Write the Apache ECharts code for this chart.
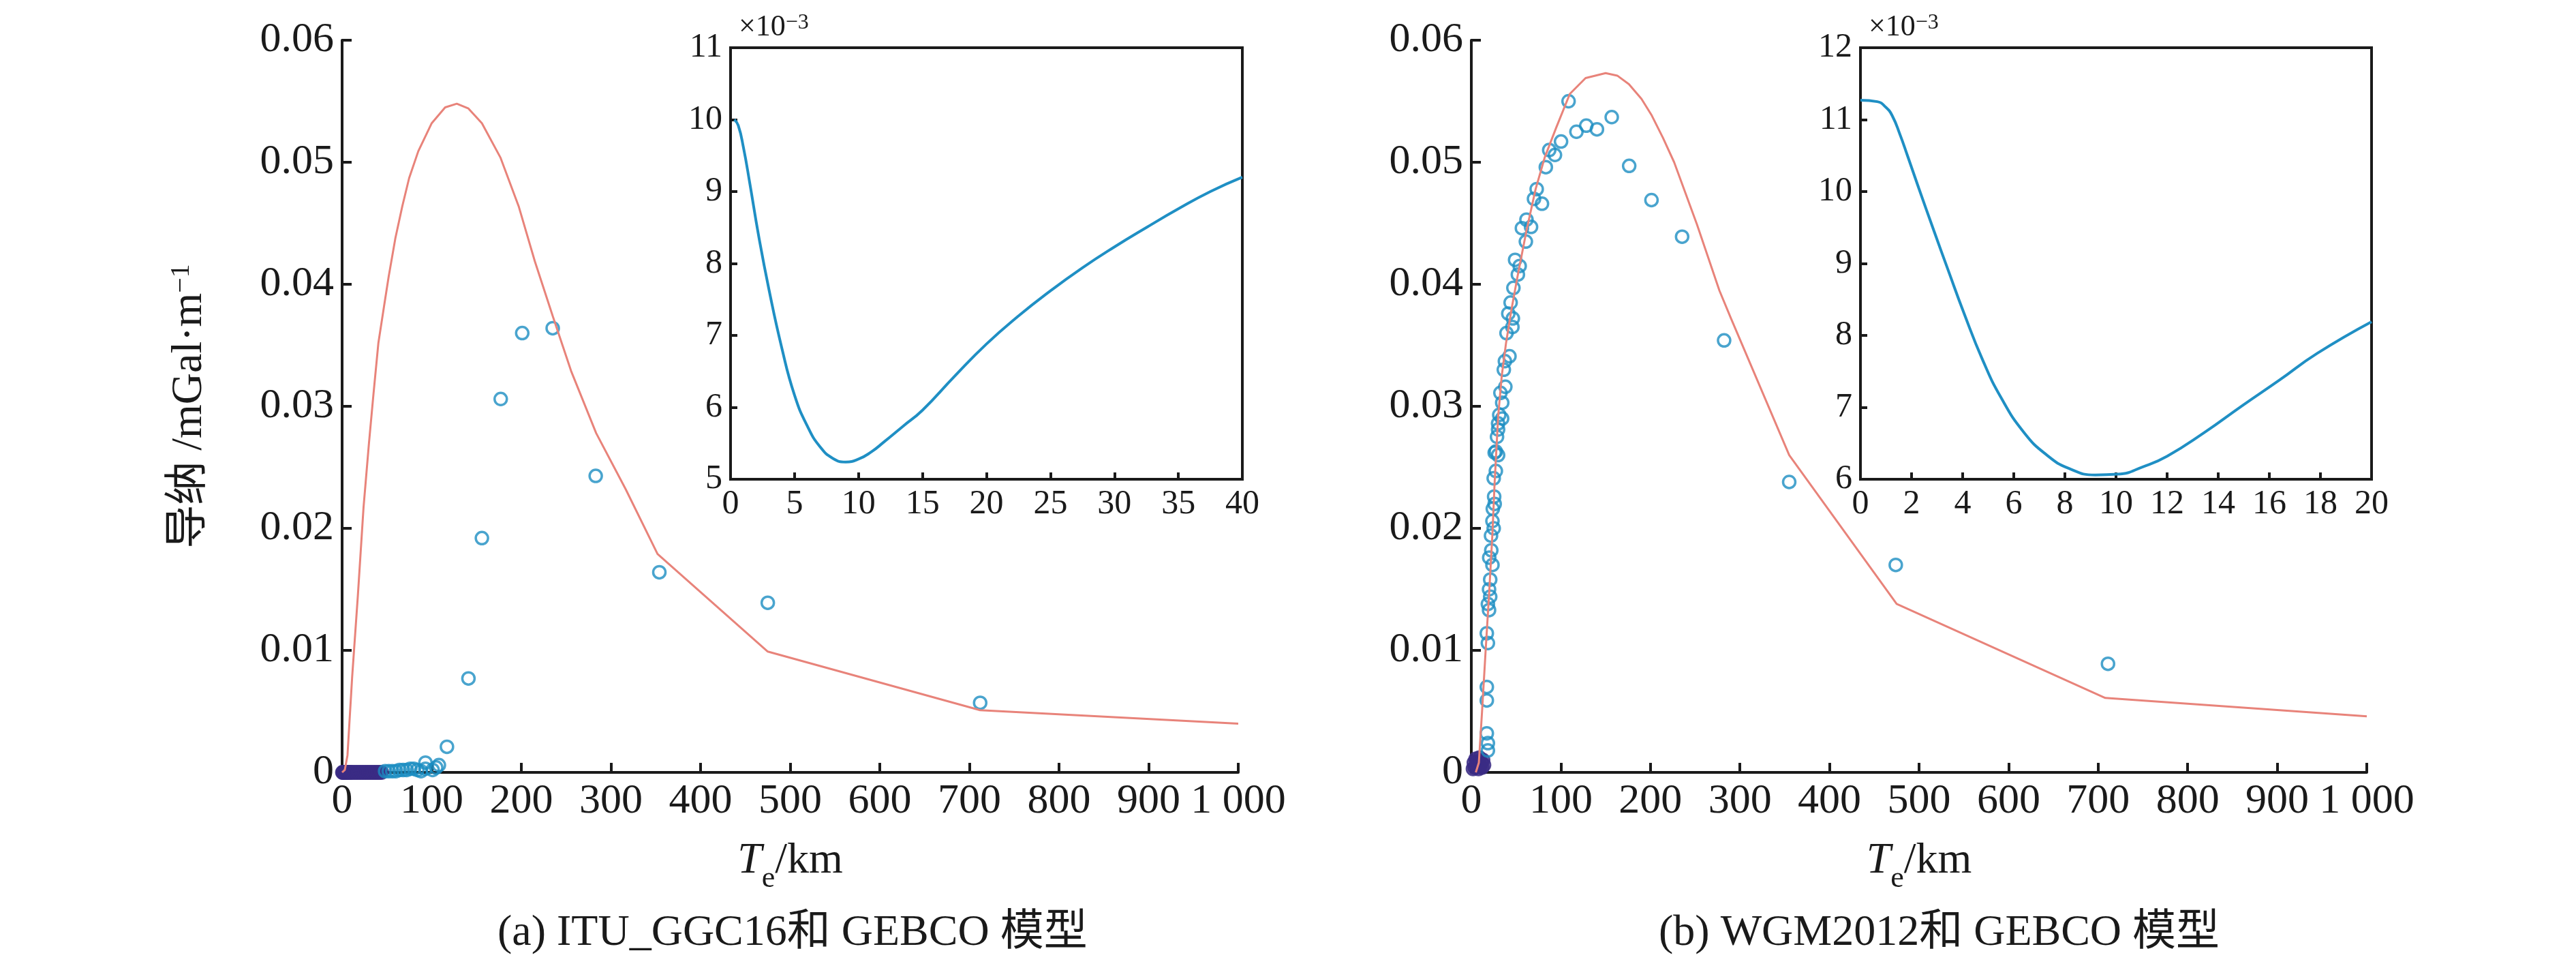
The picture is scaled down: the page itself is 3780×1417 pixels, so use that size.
<!DOCTYPE html>
<html>
<head>
<meta charset="utf-8">
<title>导纳与 Te</title>
<script src="https://cdn.jsdelivr.net/npm/echarts@6/dist/echarts.min.js"></script>
<style>
  html, body { margin: 0; padding: 0; background: #fff; }
  #chart { width: 3780px; height: 1417px; }
</style>
</head>
<body>
<div id="chart"></div>
<script>
// ---- tick labels ----
const mainXTicks = [0, 100, 200, 300, 400, 500, 600, 700, 800, 900, 1000];
const mainXLabels = ['0', '100', '200', '300', '400', '500', '600', '700', '800', '900', '1 000'];
const mainYTicks = [0, 0.01, 0.02, 0.03, 0.04, 0.05, 0.06];
const mainYLabels = ['0', '0.01', '0.02', '0.03', '0.04', '0.05', '0.06'];
const insetAXTicks = [0, 5, 10, 15, 20, 25, 30, 35, 40];
const insetAYTicks = [5, 6, 7, 8, 9, 10, 11];
const insetBXTicks = [0, 2, 4, 6, 8, 10, 12, 14, 16, 18, 20];
const insetBYTicks = [6, 7, 8, 9, 10, 11, 12];

// ---- panel (a): ITU_GGC16 and GEBCO ----
const aModelLine = [
  [0, 0], [3, 0.0002], [6, 0.0014], [11.2, 0.0078], [17.6, 0.0145],
  [23.9, 0.0217], [30, 0.027], [35, 0.031], [40.5, 0.0352], [46.8, 0.0382],
  [51.9, 0.0406], [59.5, 0.0438], [67.2, 0.0464], [74.8, 0.0487], [85, 0.0509],
  [100, 0.0532], [115, 0.0545], [128, 0.0548], [141, 0.0544], [156, 0.0532],
  [176.6, 0.0504], [197, 0.0464], [215, 0.0419], [235, 0.0374], [255.5, 0.0329],
  [283.5, 0.0278], [316.5, 0.0232], [352, 0.0179], [475, 0.0099], [712, 0.0051],
  [1000, 0.004]
];
// overlapping points squeezed along the axis near the origin
const aDense = [
  [0.5, 0], [1, 0], [2, 0], [3, 0], [4, 0], [5, 0], [6, 0], [7, 0], [8, 0],
  [9, 0], [10, 0], [12, 0], [14, 0], [16, 0], [18, 0], [20, 0], [22, 0],
  [24, 0], [26, 0], [28, 0], [30, 0], [32, 0], [34, 0], [36, 0], [38, 0],
  [40, 0], [42, 0], [44, 0]
];
const aObserved = [
  [48, 0.0001], [52, 0.0001], [56, 0.0001], [60, 0.0001], [64, 0.0002],
  [68, 0.0002], [72, 0.0002], [76, 0.0003], [80, 0.0003], [84, 0.0002],
  [88, 0.0001], [93, 0.0003], [93, 0.0008], [101, 0.0002], [105, 0.0004],
  [108, 0.0006], [117, 0.0021], [141, 0.0077], [156, 0.0192], [177, 0.0306],
  [201, 0.036], [235, 0.0364], [283, 0.0243], [354, 0.0164], [475, 0.0139],
  [712, 0.0057]
];
// inset (a), values in 1e-3
const aInset = [
  [0.3, 10.0], [0.6, 9.92], [1, 9.62], [1.5, 9.12], [2.2, 8.38], [3, 7.64],
  [4, 6.83], [5, 6.17], [6, 5.74], [7, 5.45], [8, 5.29], [9, 5.24], [10, 5.28],
  [11, 5.38], [12, 5.52], [13.5, 5.74], [15, 5.96], [17.5, 6.43], [20, 6.88],
  [22.5, 7.27], [25, 7.62], [27.5, 7.94], [30, 8.23], [32.5, 8.5], [35, 8.76],
  [37.5, 9.0], [40, 9.2]
];

// ---- panel (b): WGM2012 and GEBCO ----
const bModelLine = [
  [5, 0], [8.4, 0.0008], [12, 0.005], [16, 0.01], [20, 0.0148], [23.6, 0.0196],
  [26, 0.0237], [30, 0.0292], [34, 0.0325], [38.8, 0.0352], [45, 0.038],
  [51.5, 0.0406], [61.6, 0.0444], [71.8, 0.0478], [82, 0.0504], [94.6, 0.0528],
  [110, 0.0556], [127.6, 0.0569], [150, 0.0573], [163, 0.0571], [176, 0.0564],
  [190, 0.0552], [201, 0.0539], [214, 0.052], [226.5, 0.05], [252, 0.0449],
  [277, 0.0395], [290, 0.0372], [355, 0.026], [475, 0.0138], [708, 0.0061],
  [1000, 0.0046]
];
const bDense = [
  [2, 0.0003], [3, 0.0008], [4, 0.0004], [5, 0.0011], [6, 0.0006], [7, 0.0009],
  [8, 0.0003], [9, 0.0012], [10, 0.0005], [11, 0.0008], [12, 0.0004],
  [13, 0.001], [14, 0.0006]
];
const bObserved = [
  [18.5, 0.0018], [18.5, 0.0024], [17.3, 0.0032], [17.3, 0.0059], [17.3, 0.007],
  [18.5, 0.0106], [17.3, 0.0114], [19.8, 0.0133], [18.5, 0.0138], [21.1, 0.0144],
  [19.8, 0.015], [21.1, 0.0158], [23.6, 0.017], [20, 0.0176], [22.3, 0.0182],
  [22, 0.0194], [25, 0.02], [23.6, 0.0206], [24, 0.0216], [26.1, 0.022],
  [25.5, 0.0226], [25, 0.0241], [27.4, 0.0247], [29.9, 0.026], [26.1, 0.0262],
  [27.4, 0.0263], [28.7, 0.0275], [29.9, 0.0281], [29.9, 0.0286], [34.4, 0.029],
  [31.2, 0.0293], [34.5, 0.0303], [32.5, 0.0311], [38, 0.0316], [36.3, 0.033],
  [37.5, 0.0337], [42.6, 0.0341], [39.3, 0.036], [45.9, 0.0365], [46.4, 0.0372],
  [41.3, 0.0376], [43.9, 0.0385], [47, 0.0397], [52, 0.0408], [54, 0.0415],
  [48.9, 0.042], [60.9, 0.0435], [56.5, 0.0446], [66.7, 0.0447], [61.6, 0.0453],
  [78.9, 0.0466], [70, 0.047], [73, 0.0478], [83.2, 0.0496], [93.4, 0.0506],
  [87, 0.051], [100.2, 0.0517], [117.4, 0.0525], [140.3, 0.0527], [128.4, 0.053],
  [156.8, 0.0537], [108.6, 0.055], [176.3, 0.0497], [201.2, 0.0469],
  [235.4, 0.0439], [282.3, 0.0354], [355, 0.0238], [474, 0.017], [711, 0.0089]
];
const bInset = [
  [0, 11.27], [0.66, 11.25], [1.0, 11.17], [1.25, 11.05], [1.54, 10.8],
  [1.84, 10.5], [2.28, 10.05], [2.87, 9.46], [3.46, 8.88], [4.04, 8.32],
  [4.78, 7.66], [5.51, 7.13], [6.4, 6.65], [7.28, 6.34], [8.16, 6.15],
  [9.19, 6.06], [10.07, 6.07], [11.1, 6.18], [12, 6.32], [13.46, 6.65],
  [14.93, 7.02], [16.4, 7.38], [17.87, 7.75], [20, 8.19]
];

const FONT = '"Liberation Serif", "Noto Sans CJK SC", serif';
const INK = '#1a1a1a';
const LINE_RED = '#e8837a';
const DOT_BLUE = '#1b8dc2';
const DOT_DARK = '#3b2c84';
const CURVE_BLUE = '#1f8fc4';

function axis(gridIndex, ticks, labels, size, tickLen, extra) {
  const step = ticks[1] - ticks[0];
  return Object.assign({
    type: 'value',
    gridIndex: gridIndex,
    min: ticks[0],
    max: ticks[ticks.length - 1],
    interval: step,
    axisLine: { show: true, onZero: false, lineStyle: { color: INK, width: 4 } },
    axisTick: { show: true, inside: true, length: tickLen, lineStyle: { color: INK, width: 4 } },
    axisLabel: {
      color: INK, fontFamily: FONT, fontSize: size, margin: 12,
      formatter: function (v) {
        const i = Math.round((v - ticks[0]) / step);
        return labels ? labels[i] : String(ticks[i]);
      }
    },
    splitLine: { show: false }
  }, extra || {});
}

const teName = {
  name: '{t|T}{s|e}{n|/km}',
  nameLocation: 'middle',
  nameGap: 82,
  nameTextStyle: {
    rich: {
      t: { fontFamily: FONT, fontSize: 64, fontStyle: 'italic', color: INK, lineHeight: 96 },
      s: { fontFamily: FONT, fontSize: 44, color: INK, verticalAlign: 'bottom', lineHeight: 44 },
      n: { fontFamily: FONT, fontSize: 64, color: INK, lineHeight: 96 }
    }
  }
};

const scaleName = {
  name: '{a|×10}{b|−3}',
  nameLocation: 'end',
  nameGap: 8,
  nameTextStyle: {
    align: 'left',
    verticalAlign: 'bottom',
    padding: [0, 0, 0, 12],
    rich: {
      a: { fontFamily: FONT, fontSize: 44, color: INK, lineHeight: 44 },
      b: { fontFamily: FONT, fontSize: 32, color: INK, verticalAlign: 'top', lineHeight: 32 }
    }
  }
};

const insetGrid = { show: true, borderColor: INK, borderWidth: 4, backgroundColor: '#fff', outerBoundsMode: 'none' };

function modelLine(xi, data) {
  return { type: 'line', xAxisIndex: xi, yAxisIndex: xi, data: data, showSymbol: false,
    lineStyle: { color: LINE_RED, width: 3 } };
}
function dots(xi, data, dense) {
  return { type: 'scatter', xAxisIndex: xi, yAxisIndex: xi, data: data, clip: false,
    symbolSize: dense ? 20 : 18,
    itemStyle: dense
      ? { color: DOT_DARK, borderColor: DOT_DARK, borderWidth: 2 }
      : { color: 'rgba(0,0,0,0)', borderColor: DOT_BLUE, borderWidth: 3.5 } };
}
function insetCurve(xi, data) {
  return { type: 'line', xAxisIndex: xi, yAxisIndex: xi, data: data, showSymbol: false,
    smooth: 0.5, lineStyle: { color: CURVE_BLUE, width: 4 } };
}

const chart = echarts.init(document.getElementById('chart'));
chart.setOption({
  animation: false,
  backgroundColor: '#fff',
  title: [
    { text: '(a) ITU_GGC16和 GEBCO 模型', left: 725, top: 1332,
      textStyle: { fontFamily: FONT, fontSize: 64, fontWeight: 'normal', color: INK } },
    { text: '(b) WGM2012和 GEBCO 模型', left: 2429, top: 1332,
      textStyle: { fontFamily: FONT, fontSize: 64, fontWeight: 'normal', color: INK } }
  ],
  grid: [
    { left: 502, top: 59, width: 1315, height: 1074, outerBoundsMode: 'none' },
    Object.assign({ left: 1072, top: 70, width: 751, height: 633 }, insetGrid),
    { left: 2159, top: 59, width: 1314, height: 1074, outerBoundsMode: 'none' },
    Object.assign({ left: 2730, top: 70, width: 750, height: 633 }, insetGrid)
  ],
  xAxis: [
    axis(0, mainXTicks, mainXLabels, 62, 14, teName),
    axis(1, insetAXTicks, null, 50, 10),
    axis(2, mainXTicks, mainXLabels, 62, 14, teName),
    axis(3, insetBXTicks, null, 50, 10)
  ],
  yAxis: [
    axis(0, mainYTicks, mainYLabels, 62, 14, {
      name: '{m|导纳 /mGal·m}{s|−1}',
      nameLocation: 'middle',
      nameRotate: 90,
      nameGap: 192,
      nameTextStyle: {
        rich: {
          m: { fontFamily: FONT, fontSize: 64, color: INK, lineHeight: 64 },
          s: { fontFamily: FONT, fontSize: 40, color: INK, verticalAlign: 'top', lineHeight: 40 }
        }
      }
    }),
    axis(1, insetAYTicks, null, 50, 10, scaleName),
    axis(2, mainYTicks, mainYLabels, 62, 14),
    axis(3, insetBYTicks, null, 50, 10, scaleName)
  ],
  series: [
    modelLine(0, aModelLine),
    dots(0, aDense, true),
    dots(0, aObserved, false),
    insetCurve(1, aInset),
    modelLine(2, bModelLine),
    dots(2, bDense, true),
    dots(2, bObserved, false),
    insetCurve(3, bInset)
  ]
});
</script>
</body>
</html>
